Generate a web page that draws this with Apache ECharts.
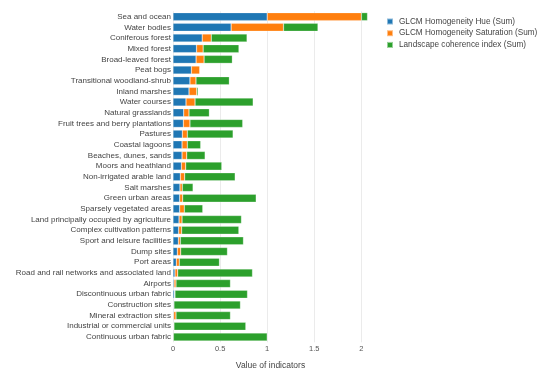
<!DOCTYPE html>
<html><head><meta charset="utf-8">
<script src="https://cdn.jsdelivr.net/npm/echarts@6/dist/echarts.min.js"></script>
<style>html,body{margin:0;padding:0;background:#fff}#c{width:550px;height:380px}</style>
</head><body><div id="c"></div>
<script>
const categories = ["Sea and ocean","Water bodies","Coniferous forest","Mixed forest","Broad-leaved forest","Peat bogs","Transitional woodland-shrub","Inland marshes","Water courses","Natural grasslands","Fruit trees and berry plantations","Pastures","Coastal lagoons","Beaches, dunes, sands","Moors and heathland","Non-irrigated arable land","Salt marshes","Green urban areas","Sparsely vegetated areas","Land principally occupied by agriculture","Complex cultivation patterns","Sport and leisure facilities","Dump sites","Port areas","Road and rail networks and associated land","Airports","Discontinuous urban fabric","Construction sites","Mineral extraction sites","Industrial or commercial units","Continuous urban fabric"];
const hue = [1.0,0.617,0.31,0.25,0.245,0.195,0.18,0.17,0.138,0.114,0.11,0.099,0.096,0.096,0.089,0.078,0.074,0.071,0.071,0.064,0.06,0.057,0.046,0.035,0.021,0.011,0.016,0.007,0.007,0.005,0.002];
const saturation = [1.0,0.556,0.096,0.07,0.085,0.09,0.064,0.082,0.096,0.056,0.07,0.053,0.056,0.05,0.046,0.046,0.025,0.032,0.049,0.032,0.032,0.021,0.036,0.032,0.029,0.021,0.005,0.003,0.025,0.005,0.002];
const coherence = [0.065,0.366,0.38,0.38,0.30,0,0.354,0.014,0.617,0.216,0.56,0.486,0.142,0.195,0.383,0.536,0.114,0.78,0.196,0.631,0.607,0.67,0.496,0.426,0.794,0.578,0.77,0.706,0.578,0.763,0.996];
const seriesNames = ["GLCM Homogeneity Hue (Sum)","GLCM Homogeneity Saturation (Sum)","Landscape coherence index (Sum)"];
const colors = ["#1f77b4","#ff7f0e","#2ca02c"];
const xTicks = [0,0.5,1,1.5,2];

const chart = echarts.init(document.getElementById('c'), null, {renderer:'canvas'});
const font = 'Liberation Sans, Arial, sans-serif';
const mk = (name, data, i) => ({
  name, type:'bar', stack:'total', data, barCategoryGap:'25%',
  itemStyle:{color:colors[i], borderColor:'rgba(255,255,255,0.5)', borderWidth:0.5},
  emphasis:{disabled:true}
});
chart.setOption({
  animation:false,
  textStyle:{fontFamily:font},
  grid:{left:173, right:182, top:11.3, bottom:37.7, containLabel:false},
  legend:{
    orient:'vertical', left:386, top:17.5, itemWidth:6, itemHeight:6, itemGap:3.7,
    padding:[0,0,0,0],
    icon:'rect',
    textStyle:{fontSize:8.2, color:'#444', fontFamily:font, padding:[0,0,0,1]},
    data:seriesNames
  },
  xAxis:{
    type:'value', min:0, max:2.07, interval:0.5,
    name:'Value of indicators', nameLocation:'middle', nameGap:19,
    nameTextStyle:{fontSize:8.5, color:'#444', fontFamily:font},
    axisLine:{show:false}, axisTick:{show:false},
    axisLabel:{fontSize:7.5, color:'#555', margin:3, showMaxLabel:false,
      formatter: v => xTicks.includes(v) ? String(v) : ''},
    splitLine:{show:true, showMaxLine:false, lineStyle:{color:'#ebebeb', width:1}}
  },
  yAxis:{
    type:'category', data:categories, inverse:true,
    axisLine:{show:false}, axisTick:{show:false},
    axisLabel:{fontSize:8, color:'#444', margin:2, interval:0, fontFamily:font}
  },
  series:[mk(seriesNames[0],hue,0), mk(seriesNames[1],saturation,1), mk(seriesNames[2],coherence,2)]
});
</script></body></html>
